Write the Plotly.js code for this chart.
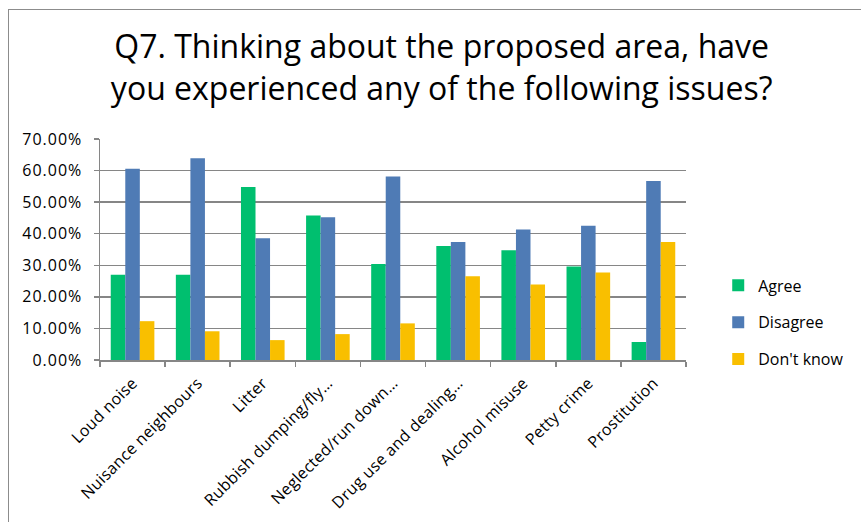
<!DOCTYPE html>
<html>
<head>
<meta charset="utf-8">
<script src="https://cdn.plot.ly/plotly-3.0.1.min.js"></script>
<style>
  html, body { margin: 0; padding: 0; background: #ffffff; }
  #wrap { position: relative; width: 861px; height: 522px; overflow: hidden; }
  #chart { width: 861px; height: 522px; }
  #frame {
    position: absolute; left: 8px; top: 9px; width: 900px; height: 600px;
    border: 1.5px solid #8c8c8c; pointer-events: none; box-sizing: border-box;
  }
  /* slightly looser spacing for axis labels */
  #chart .ytick text { letter-spacing: 1px; }
  #chart .xtick text { letter-spacing: 0.3px; }
</style>
</head>
<body>
<div id="wrap">
  <div id="chart"></div>
  <div id="frame"></div>
</div>
<script>
// Survey question Q7: share of responses per issue
const categories = [
  "Loud noise",
  "Nuisance neighbours",
  "Litter",
  "Rubbish dumping/fly…",
  "Neglected/run down…",
  "Drug use and dealing…",
  "Alcohol misuse",
  "Petty crime",
  "Prostitution"
];
const agree    = [0.270, 0.270, 0.548, 0.458, 0.304, 0.361, 0.348, 0.296, 0.057];
const disagree = [0.606, 0.639, 0.386, 0.452, 0.581, 0.374, 0.413, 0.425, 0.567];
const dontKnow = [0.123, 0.091, 0.063, 0.082, 0.116, 0.265, 0.239, 0.277, 0.374];
const yTicks   = [0, 0.1, 0.2, 0.3, 0.4, 0.5, 0.6, 0.7];

const FONT = "'Open Sans', Lato, sans-serif";

function series(name, values, color, group) {
  return {
    type: "bar",
    name: name,
    x: categories,
    y: values,
    legendgroup: group,
    marker: { color: color, line: { width: 0 } },
    hoverinfo: "x+y+name"
  };
}

const data = [
  series("Agree", agree, "rgb(0,191,111)", "a"),
  series("Disagree", disagree, "rgb(79,123,181)", "b"),
  series("Don't know", dontKnow, "rgb(249,191,0)", "c")
];

const layout = {
  width: 861,
  height: 522,
  paper_bgcolor: "#ffffff",
  plot_bgcolor: "#ffffff",
  font: { family: FONT, color: "#000000", size: 15 },
  margin: { l: 100, r: 151, t: 139, b: 162, pad: 0 },
  barmode: "group",
  bargap: 0.33,
  bargroupgap: 0,
  title: {
    text: "Q7. Thinking about the proposed area, have<br>you experienced any of the following issues?",
    font: { family: FONT, size: 32, color: "#000000" },
    xref: "container",
    x: 0.513,
    xanchor: "center",
    yref: "container",
    y: 0.888,
    yanchor: "top"
  },
  xaxis: {
    type: "category",
    tickangle: -45,
    ticks: "outside",
    tickson: "boundaries",
    ticklen: 5,
    tickwidth: 1.5,
    tickcolor: "#868686",
    showline: true,
    linecolor: "#868686",
    linewidth: 1.5,
    showgrid: false,
    ticklabelstandoff: 6,
    tickfont: { family: FONT, size: 16, color: "#000000" },
    automargin: false
  },
  yaxis: {
    range: [0, 0.7],
    tickvals: yTicks,
    tickformat: ".2%",
    ticks: "outside",
    ticklen: 5,
    tickwidth: 1.5,
    tickcolor: "#868686",
    showline: true,
    linecolor: "#868686",
    linewidth: 1.5,
    showgrid: true,
    gridcolor: "#868686",
    gridwidth: 1.5,
    zeroline: false,
    ticklabelstandoff: 8,
    tickfont: { family: FONT, size: 16, color: "#000000" },
    automargin: false
  },
  showlegend: true,
  legend: {
    x: 1.055,
    xanchor: "left",
    y: 0.17,
    yanchor: "middle",
    traceorder: "grouped",
    tracegroupgap: 13,
    font: { family: FONT, size: 16, color: "#000000" },
    itemwidth: 30,
    bgcolor: "rgba(0,0,0,0)"
  }
};

Plotly.newPlot("chart", data, layout, { displayModeBar: false, staticPlot: true });
</script>
</body>
</html>
